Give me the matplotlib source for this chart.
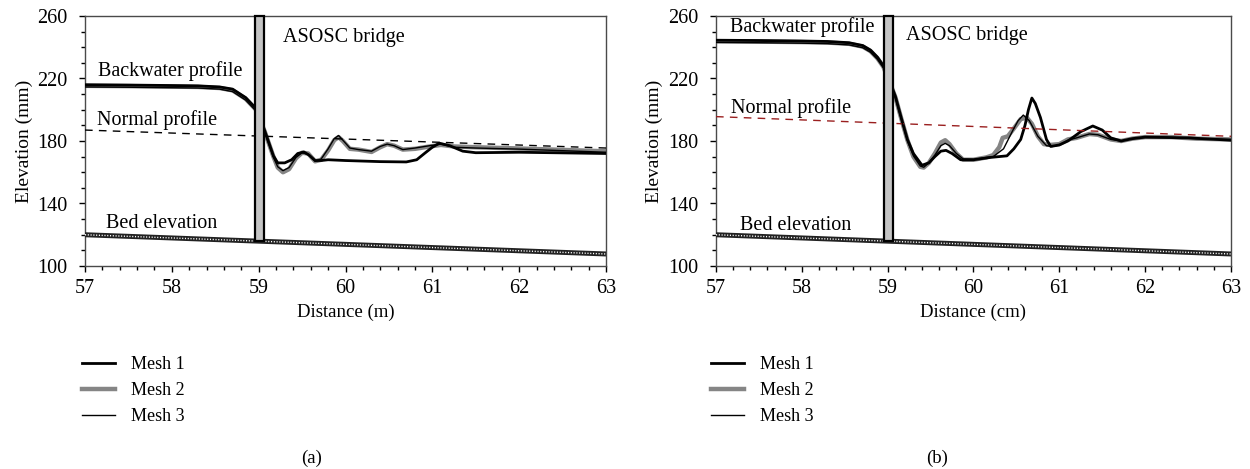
import matplotlib.pyplot as plt
import numpy as np
from matplotlib.patches import Rectangle
from matplotlib.ticker import MultipleLocator

plt.rcParams['font.family'] = ['Liberation Serif', 'DejaVu Serif']
plt.rcParams['font.size'] = 13

# panel (a) -----------------------------------------------------------
up_x_a = [57.0, 57.5, 58.0, 58.3, 58.55, 58.7, 58.85, 58.97, 59.07, 59.17]
up1_y_a = [216.0, 215.8, 215.5, 215.3, 214.6, 213.2, 207.8, 200.8, 186.5, 170.5]
up2_y_a = [215.3, 215.1, 214.8, 214.6, 213.9, 212.4, 207.0, 200.0, 186.0, 170.0]
up3_y_a = [214.6, 214.4, 214.1, 213.9, 213.2, 211.6, 206.2, 199.2, 185.5, 169.5]

m1_x_a = [59.22, 59.3, 59.38, 59.45, 59.52, 59.58, 59.65, 59.72, 59.8, 60.0, 60.4,
          60.7, 60.82, 60.92, 61.0, 61.08, 61.2, 61.35, 61.5, 62.0, 62.5, 63.0]
m1_y_a = [166.0, 166.0, 168.0, 172.0, 173.0, 171.0, 167.5, 167.5, 168.0, 167.5, 166.8,
          166.6, 168.0, 172.5, 176.0, 178.6, 177.0, 173.5, 172.5, 172.8, 172.4, 172.0]

m2_x_a = [59.22, 59.28, 59.35, 59.43, 59.5, 59.57, 59.65, 59.72, 59.8, 59.87, 59.92,
          59.97, 60.05, 60.15, 60.3, 60.4, 60.48, 60.56, 60.66, 60.8, 60.97, 61.1,
          61.25, 61.5, 62.0, 62.5, 63.0]
m2_y_a = [163.0, 160.0, 162.0, 169.0, 172.5, 172.0, 167.0, 168.0, 174.0, 180.5, 182.5,
          180.0, 175.0, 174.5, 173.0, 176.0, 178.0, 177.0, 174.5, 175.0, 176.5, 177.5,
          176.5, 176.0, 175.2, 174.3, 173.4]

m3_x_a = [59.22, 59.28, 59.35, 59.43, 59.5, 59.57, 59.65, 59.72, 59.8, 59.87, 59.92,
          59.97, 60.05, 60.15, 60.3, 60.4, 60.48, 60.56, 60.66, 60.8, 60.97, 61.1,
          61.25, 61.5, 62.0, 62.5, 63.0]
m3_y_a = [163.5, 161.0, 163.0, 169.5, 172.5, 171.5, 167.0, 168.5, 175.0, 181.5, 183.5,
          180.5, 175.5, 174.5, 173.5, 176.5, 178.0, 177.0, 174.5, 175.5, 177.0, 178.0,
          176.0, 175.5, 174.8, 173.8, 172.8]

normal_a = [187.0, 175.5]
bed = [120.0, 107.7]
dist_ends = [57.0, 63.0]

# panel (b) -----------------------------------------------------------
up_x_b = [57.0, 57.5, 58.0, 58.3, 58.55, 58.71, 58.8, 58.88, 58.95, 59.02, 59.09,
          59.16, 59.23]
up1_y_b = [244.5, 244.3, 244.0, 243.7, 242.9, 241.1, 238.2, 233.7, 228.2, 218.6, 208.6,
           194.5, 181.0]
up2_y_b = [243.8, 243.6, 243.3, 243.0, 242.2, 240.4, 237.5, 233.0, 227.5, 218.0, 208.0,
           194.0, 180.6]
up3_y_b = [243.1, 242.9, 242.6, 242.3, 241.5, 239.7, 236.8, 232.3, 226.8, 217.4, 207.4,
           193.5, 180.2]

m1_x_b = [59.3, 59.4, 59.48, 59.55, 59.62, 59.68, 59.75, 59.85, 60.0, 60.2, 60.39,
          60.47, 60.55, 60.6, 60.64, 60.68, 60.72, 60.78, 60.85, 60.9, 61.0, 61.1,
          61.25, 61.39, 61.5, 61.6, 61.72, 61.85, 62.0, 62.5, 63.0]
m1_y_b = [172.0, 164.5, 166.0, 170.0, 173.5, 174.0, 172.0, 168.0, 168.0, 169.5, 170.5,
          175.0, 181.0, 190.0, 200.0, 207.5, 204.0, 195.0, 181.0, 176.5, 177.5, 180.0,
          186.0, 189.6, 187.0, 182.0, 180.0, 181.5, 182.5, 182.0, 180.5]

m2_x_b = [59.3, 59.38, 59.42, 59.48, 59.55, 59.62, 59.67, 59.72, 59.8, 59.88, 60.0,
          60.15, 60.23, 60.3, 60.34, 60.4, 60.47, 60.55, 60.62, 60.68, 60.75, 60.82,
          60.9, 61.0, 61.1, 61.2, 61.35, 61.45, 61.6, 61.72, 61.85, 62.0, 62.3, 62.6, 63.0]
m2_y_b = [170.0, 163.5, 163.0, 166.0, 172.0, 179.0, 180.5, 178.0, 172.0, 168.0, 168.0,
          169.5, 171.0, 176.0, 182.0, 183.0, 188.0, 194.0, 195.0, 191.0, 183.0, 178.0,
          177.5, 178.0, 181.0, 182.0, 184.5, 184.0, 181.0, 180.0, 181.5, 182.5, 182.5,
          181.5, 181.0]

m3_x_b = [59.3, 59.38, 59.42, 59.48, 59.55, 59.62, 59.67, 59.72, 59.8, 59.88, 60.0,
          60.15, 60.23, 60.35, 60.46, 60.52, 60.58, 60.65, 60.75, 60.85, 60.92, 61.0,
          61.1, 61.2, 61.35, 61.45, 61.6, 61.72, 61.85, 62.0, 62.3, 62.6, 63.0]
m3_y_b = [170.5, 164.0, 163.2, 166.0, 171.0, 177.0, 178.5, 177.0, 172.0, 168.5, 168.2,
          169.5, 170.0, 175.0, 187.0, 193.0, 196.6, 193.0, 183.0, 177.0, 176.5, 177.5,
          180.5, 182.0, 184.5, 184.0, 181.0, 180.0, 181.5, 182.3, 182.3, 181.5, 181.0]

normal_b = [195.6, 183.0]

bridge_x = [58.962, 59.065]
bridge_top, bridge_bottom = 260.0, 116.3

y_ticks = [100, 140, 180, 220, 260]
mesh_labels = ['Mesh 1', 'Mesh 2', 'Mesh 3']

fig = plt.figure(figsize=(12.5, 4.69), dpi=100)
ax_a = fig.add_axes([85 / 1250, 1 - 266 / 469, 521 / 1250, 250 / 469])
ax_b = fig.add_axes([716 / 1250, 1 - 266 / 469, 515 / 1250, 250 / 469])


def draw_panel(ax, up_x, ups, m1, m2, m3, normal, normal_color, xlabel, ylab_x):
    l2, = ax.plot(up_x + m2[0], ups[1] + m2[1], color='#858585', lw=3.2, zorder=2)
    l1, = ax.plot(up_x + m1[0], ups[0] + m1[1], color='black', lw=2.0, zorder=3)
    l3, = ax.plot(up_x + m3[0], ups[2] + m3[1], color='black', lw=1.0, zorder=4)

    ax.plot(dist_ends, normal, color=normal_color, lw=1.0,
            linestyle=(0, (5.5, 4.5)), zorder=3)

    # bed line: dark band with white dots
    ax.plot(dist_ends, bed, color='#222222', lw=3.6, zorder=3, solid_capstyle='butt')
    ax.plot(dist_ends, bed, color='white', lw=1.0, linestyle=(0, (0.8, 1.2)), zorder=3)

    ax.add_patch(Rectangle((bridge_x[0], bridge_bottom), bridge_x[1] - bridge_x[0],
                           bridge_top - bridge_bottom, facecolor='#c4c4c4',
                           edgecolor='black', lw=1.6, zorder=6, clip_on=False))

    ax.set_xlim(57, 63)
    ax.set_ylim(100, 260)
    ax.xaxis.set_major_locator(MultipleLocator(1))
    ax.xaxis.set_minor_locator(MultipleLocator(0.2))
    ax.set_yticks(y_ticks)
    ax.yaxis.set_minor_locator(MultipleLocator(10))
    ax.tick_params(which='major', direction='out', length=4.5, width=1, labelsize=14.5)
    ax.tick_params(axis='y', which='major', pad=8)
    ax.tick_params(axis='x', which='major', pad=5)
    ax.tick_params(which='minor', direction='out', length=2.8, width=1)
    for s in ax.spines.values():
        s.set_color('#4a4a4a')
        s.set_linewidth(1.0)
    ax.set_xlabel(xlabel, fontsize=13.5, labelpad=4)
    ax.set_ylabel('Elevation (mm)', fontsize=14)
    ax.yaxis.set_label_coords(ylab_x, 0.5)
    return [l1, l2, l3]


lines_a = draw_panel(ax_a, up_x_a, (up1_y_a, up2_y_a, up3_y_a), (m1_x_a, m1_y_a),
                     (m2_x_a, m2_y_a), (m3_x_a, m3_y_a), normal_a, 'black',
                     'Distance (m)', -0.10)
lines_b = draw_panel(ax_b, up_x_b, (up1_y_b, up2_y_b, up3_y_b), (m1_x_b, m1_y_b),
                     (m2_x_b, m2_y_b), (m3_x_b, m3_y_b), normal_b, '#9a1f1f',
                     'Distance (cm)', -0.103)

ax_a.text(57.15, 221.5, 'Backwater profile', fontsize=14.5)
ax_a.text(57.14, 190.2, 'Normal profile', fontsize=14.5)
ax_a.text(57.24, 124.3, 'Bed elevation', fontsize=14.5)
ax_a.text(59.28, 243.5, 'ASOSC bridge', fontsize=14.5)

ax_b.text(57.16, 249.8, 'Backwater profile', fontsize=14.5)
ax_b.text(57.17, 197.9, 'Normal profile', fontsize=14.5)
ax_b.text(57.28, 123.0, 'Bed elevation', fontsize=14.5)
ax_b.text(59.21, 244.6, 'ASOSC bridge', fontsize=14.5)

for lines, x0 in ((lines_a, 82), (lines_b, 711)):
    fig.legend(lines, mesh_labels, loc='upper left', frameon=False, fontsize=13,
               bbox_to_anchor=(x0 / 1250, 1 - 356 / 469), borderpad=0,
               borderaxespad=0, handlelength=1.8, handletextpad=0.9,
               labelspacing=0.5)

fig.text(312 / 1250, 1 - 458 / 469, '(a)', ha='center', va='center', fontsize=13.5)
fig.text(937 / 1250, 1 - 458 / 469, '(b)', ha='center', va='center', fontsize=13.5)

fig.savefig('out.png', dpi=100)
